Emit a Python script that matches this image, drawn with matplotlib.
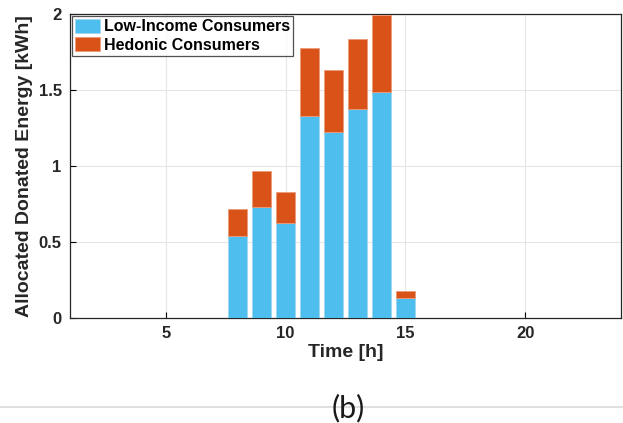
import numpy as np
import matplotlib.pyplot as plt
from matplotlib.lines import Line2D

# hourly allocation of donated energy
hours = [8, 9, 10, 11, 12, 13, 14, 15]
low_income = [0.54, 0.73, 0.625, 1.33, 1.225, 1.375, 1.49, 0.13]
hedonic = [0.18, 0.24, 0.205, 0.445, 0.405, 0.46, 0.50, 0.045]

plt.rcParams['font.family'] = ['Liberation Sans', 'DejaVu Sans']

fig = plt.figure(figsize=(6.23, 4.23), dpi=100)
ax = fig.add_axes([0.1124, 0.248, 0.8844, 0.719])

ax.bar(hours, low_income, width=0.8, color='#4DBEEE', edgecolor='#9fd8f3',
       linewidth=0.6, label='Low-Income Consumers', zorder=3)
ax.bar(hours, hedonic, width=0.8, bottom=low_income, color='#D95319',
       edgecolor='#eb9a78', linewidth=0.6, label='Hedonic Consumers', zorder=3)

ax.set_xlim(1, 24)
ax.set_ylim(0, 2)
ax.set_xticks([5, 10, 15, 20])
ax.set_yticks([0, 0.5, 1, 1.5, 2])
ax.set_yticklabels(['0', '0.5', '1', '1.5', '2'])
ax.grid(True, color='#e6e6e6', linewidth=0.8, zorder=0)
ax.tick_params(direction='in', length=4, width=0.8, labelsize=12, pad=6)
for lbl in ax.get_xticklabels() + ax.get_yticklabels():
    lbl.set_fontweight('bold')
    lbl.set_color('#262626')
for s in ax.spines.values():
    s.set_color('#262626')
    s.set_linewidth(0.9)

ax.set_xlabel('Time [h]', fontsize=14, fontweight='bold', color='#262626', labelpad=2)
ax.set_ylabel('Allocated Donated Energy [kWh]', fontsize=14, fontweight='bold',
              color='#262626', labelpad=4)

leg = ax.legend(loc='upper left', fontsize=11.5, frameon=True, fancybox=False,
                borderaxespad=0.1, handlelength=1.55, handleheight=0.95,
                handletextpad=0.25, borderpad=0.2, labelspacing=0.2)
leg.get_frame().set_edgecolor('#262626')
leg.get_frame().set_linewidth(0.9)
for t in leg.get_texts():
    t.set_fontweight('bold')

# separator line and panel label
fig.add_artist(Line2D([0, 1], [1 - 407 / 423, 1 - 407 / 423], color='#d9d9d9', linewidth=1.2))
fig.text(0.559, 1 - 408 / 423, '(b)', fontsize=22, family=['Lato', 'DejaVu Sans'],
         fontweight='normal', ha='center', va='center', color='#1a1a1a')

fig.savefig('out.png', dpi=100)
